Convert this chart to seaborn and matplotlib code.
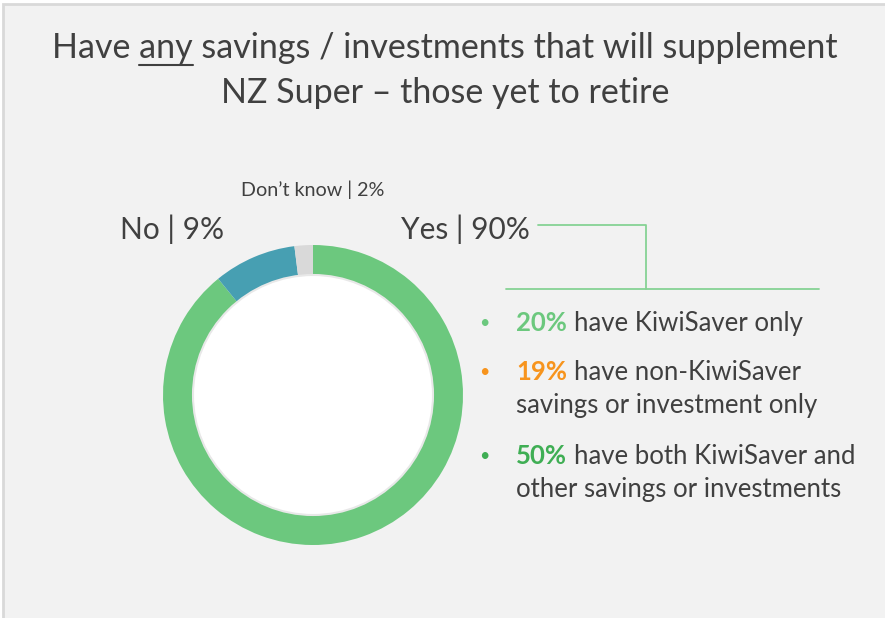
import matplotlib
matplotlib.use("Agg")
import matplotlib.pyplot as plt
import seaborn as sns
from matplotlib.patches import Circle, Rectangle

sns.set_theme(style="white")
plt.rcParams['font.family'] = ['Lato', 'DejaVu Sans']

# data
answers = ["Yes", "No", "Don\u2019t know"]
shares = [90, 9, 2]
ring_colors = ["#6cc87e", "#479fb2", "#d9d9d9"]

detail_pcts = ["20%", "19%", "50%"]
detail_colors = ["#6cc87e", "#f7941d", "#3fae54"]
detail_texts = [
    ["have KiwiSaver only"],
    ["have non-KiwiSaver", "savings or investment only"],
    ["have both KiwiSaver and", "other savings or investments"],
]

W, H = 885, 618
fig = plt.figure(figsize=(W / 100, H / 100), dpi=100)
fig.patch.set_facecolor("white")

# background axes in pixel coordinates
bg = fig.add_axes([0, 0, 1, 1])
bg.set_xlim(0, W)
bg.set_ylim(H, 0)
bg.axis("off")
bg.add_patch(Rectangle((3, 4), W, H, facecolor="#f2f2f2", edgecolor="#d9d9d9", lw=2))

text_col = "#404040"
tfs = 24.5

# title
line1 = bg.text(445, 48, "Have any savings / investments that will supplement",
                ha="center", va="center", fontsize=tfs, color=text_col)
bg.text(445, 93, "NZ Super \u2013 those yet to retire",
        ha="center", va="center", fontsize=tfs, color=text_col)

fig.canvas.draw()
renderer = fig.canvas.get_renderer()
inv = bg.transData.inverted()


def text_width(s, **kw):
    t = bg.text(0, 0, s, **kw)
    bb = t.get_window_extent(renderer)
    t.remove()
    return bb.width


bb = line1.get_window_extent(renderer)
x0 = inv.transform((bb.x0, bb.y0))[0]
w_have_any = text_width("Have any", fontsize=tfs)
w_any = text_width("any", fontsize=tfs)
ux1 = x0 + w_have_any
ux0 = ux1 - w_any
bg.plot([ux0, ux1], [65, 65], color=text_col, lw=1.5)

# donut
cx, cy, r = 313, 395, 150
pax = fig.add_axes([(cx - r) / W, (H - cy - r) / H, 2 * r / W, 2 * r / H])
pax.pie(shares, colors=ring_colors, startangle=90, counterclock=False,
        radius=1, wedgeprops=dict(width=0.2, edgecolor="none"))
pax.add_patch(Circle((0, 0), 0.8, facecolor="white", edgecolor="#e8e8e8", lw=1.5, zorder=5))
pax.set_xlim(-1, 1)
pax.set_ylim(-1, 1)
pax.set_aspect("equal")
pax.axis("off")

# labels
bg.text(172.5, 229, f"{answers[1]} | {shares[1]}%", ha="center", va="center", fontsize=21.5, color=text_col)
bg.text(465.5, 229, f"{answers[0]} | {shares[0]}%", ha="center", va="center", fontsize=21.5, color=text_col)
bg.text(312.5, 190, f"{answers[2]} | {shares[2]}%", ha="center", va="center", fontsize=14.2, color=text_col)

# connector
lc = "#86d294"
bg.plot([538, 646, 646], [225, 225, 289], color=lc, lw=1.3)
bg.plot([506, 819], [289, 289], color=lc, lw=1.3)

# bullet list
tx = 516
rows_y = [323, 372, 456]
line_gap = 34
fs = 18.5
for pct, col, lines, y in zip(detail_pcts, detail_colors, detail_texts, rows_y):
    bg.text(484, y, "\u2022", ha="center", va="center", fontsize=13, color=col)
    bg.text(tx, y, pct, ha="left", va="center", fontsize=fs, color=col, fontweight="bold")
    gap = text_width("a a", fontsize=fs) - text_width("aa", fontsize=fs)
    bg.text(tx + text_width(pct, fontsize=fs, fontweight="bold") + gap,
            y, lines[0], ha="left", va="center", fontsize=fs, color=text_col)
    for i, extra in enumerate(lines[1:], start=1):
        bg.text(tx, y + i * line_gap, extra, ha="left", va="center", fontsize=fs, color=text_col)

fig.savefig("out.png", dpi=100, facecolor=fig.get_facecolor())
